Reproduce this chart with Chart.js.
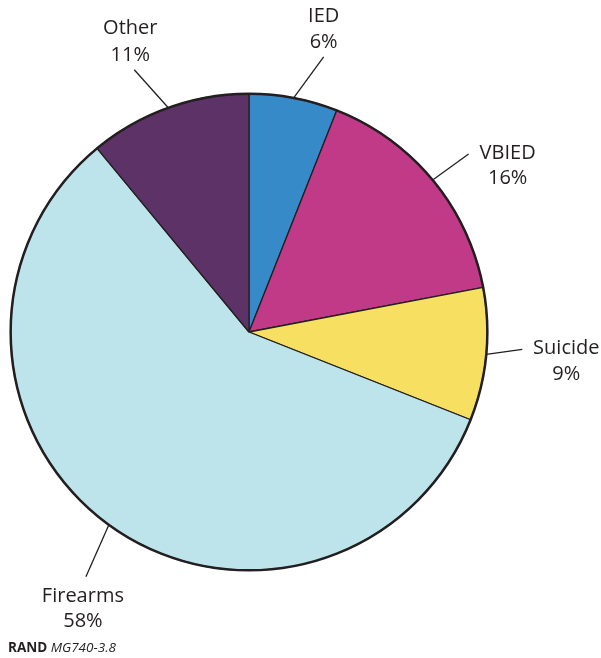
<!DOCTYPE html>
<html>
<head>
<meta charset="utf-8">
<script src="https://cdn.jsdelivr.net/npm/chart.js@4.4.0/dist/chart.umd.min.js"></script>
<style>
  body { margin: 0; background: #fff; }
  #wrap { width: 601px; height: 658px; position: relative; }
</style>
</head>
<body>
<div id="wrap"><canvas id="myChart_pie" width="601" height="658"></canvas></div>
<script>
var categories = ["IED", "VBIED", "Suicide", "Firearms", "Other"];
var shares = [6, 16, 9, 58, 11];
var sliceColors = ["#368ac7", "#c03a88", "#f7e061", "#bce4ea", "#5c3267"];

// leader line end, relative to the point on the rim at the slice middle
var leaderEnds = [[30, -41], [36, -26], [36, -5], [-23, 52], [-34, -38]];
// label block centre x and two line y's, relative to leader end
var labelSpots = [[0, -41, -15], [39, -1, 24], [44, -1, 25], [-3, 19, 44], [-4, -41, -14]];

var outsideLabels = {
    id: "outsideLabels",
    afterDatasetsDraw: function (chart) {
        var ctx = chart.ctx;
        var arcs = chart.getDatasetMeta(0).data;
        var total = shares.reduce(function (a, b) { return a + b; }, 0);
        ctx.save();
        // thick outer rim
        var a0 = arcs[0];
        ctx.beginPath();
        ctx.arc(a0.x, a0.y, a0.outerRadius, 0, Math.PI * 2);
        ctx.lineWidth = 2.5;
        ctx.strokeStyle = "#231f20";
        ctx.stroke();

        ctx.font = "20px 'Open Sans'";
        ctx.fillStyle = "#231f20";
        ctx.textAlign = "center";
        ctx.textBaseline = "middle";
        arcs.forEach(function (arc, i) {
            var mid = (arc.startAngle + arc.endAngle) / 2;
            var sx = arc.x + Math.cos(mid) * arc.outerRadius;
            var sy = arc.y + Math.sin(mid) * arc.outerRadius;
            var ex = sx + leaderEnds[i][0];
            var ey = sy + leaderEnds[i][1];
            ctx.beginPath();
            ctx.moveTo(sx, sy);
            ctx.lineTo(ex, ey);
            ctx.lineWidth = 1.3;
            ctx.strokeStyle = "#231f20";
            ctx.stroke();
            var pct = Math.round(shares[i] / total * 100) + "%";
            ctx.fillText(categories[i], ex + labelSpots[i][0], ey + labelSpots[i][1]);
            ctx.fillText(pct, ex + labelSpots[i][0], ey + labelSpots[i][2]);
        });

        // source note
        ctx.textAlign = "left";
        ctx.textBaseline = "alphabetic";
        ctx.fillStyle = "#231f20";
        ctx.font = "bold 13.5px 'Open Sans'";
        ctx.fillText("RAND", 8, 652);
        var w = ctx.measureText("RAND ").width;
        ctx.font = "italic 13.5px 'Open Sans'";
        ctx.fillText("MG740-3.8", 8 + w, 652);
        ctx.restore();
    }
};

new Chart("myChart_pie", {
    type: "pie",
    data: {
        labels: categories,
        datasets: [
            {
                backgroundColor: sliceColors,
                borderColor: "#231f20",
                borderWidth: 1.3,
                data: shares,
            },
        ],
    },
    options: {
        responsive: false,
        animation: false,
        layout: {
            padding: { left: 10, right: 113, top: 93, bottom: 87 },
        },
        plugins: {
            legend: { display: false },
            tooltip: { enabled: false },
        },
    },
    plugins: [outsideLabels],
});
</script>
</body>
</html>
